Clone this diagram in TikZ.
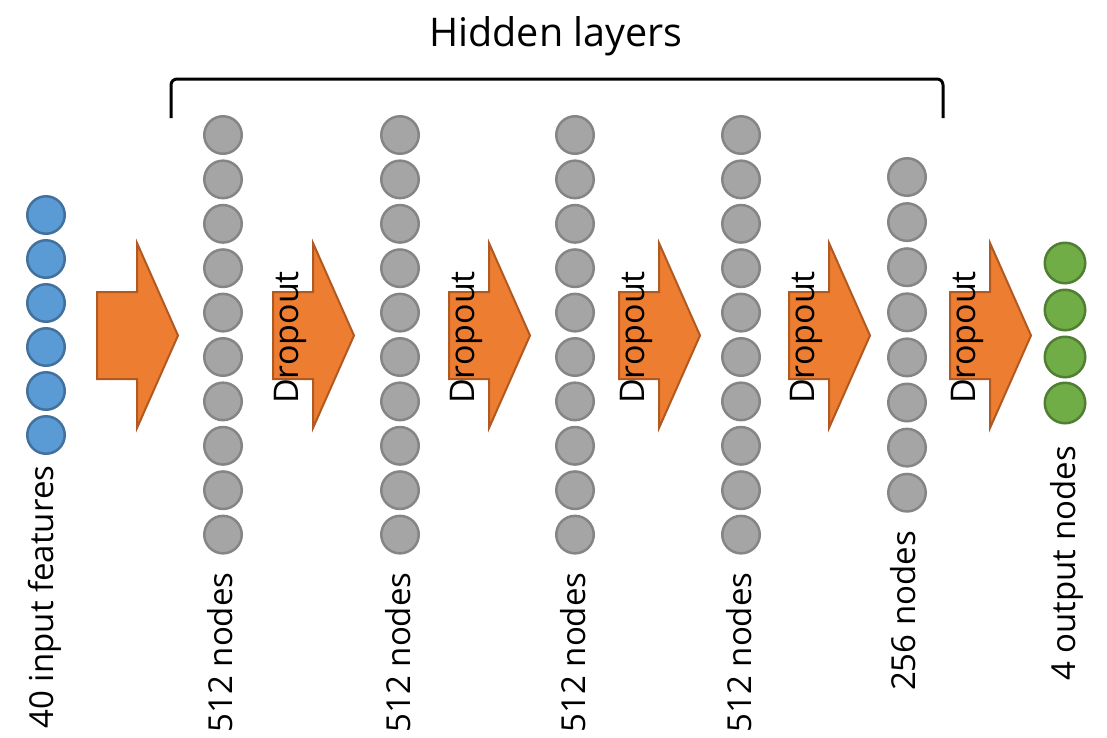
\documentclass[tikz,border=0pt]{standalone}
\usepackage{fontspec}
\setmainfont{Open Sans}
\definecolor{bluefill}{HTML}{5B9BD5}
\definecolor{blueline}{HTML}{41719C}
\definecolor{grayfill}{HTML}{A5A5A5}
\definecolor{grayline}{HTML}{858585}
\definecolor{greenfill}{HTML}{70AD47}
\definecolor{greenline}{HTML}{507E32}
\definecolor{orangefill}{HTML}{ED7D31}
\definecolor{orangeline}{HTML}{B05A22}
\tikzset{
  neuron/.style={circle, line width=2.5pt, inner sep=0pt, minimum size=37.5pt},
  inneuron/.style={neuron, draw=blueline, fill=bluefill},
  hidneuron/.style={neuron, draw=grayline, fill=grayfill},
  outneuron/.style={neuron, draw=greenline, fill=greenfill, minimum size=40.5pt},
  label/.style={rotate=90, inner sep=0pt, font=\fontsize{33}{40}\selectfont},
  droptext/.style={rotate=90, inner sep=0pt, font=\fontsize{34}{40}\selectfont},
  title/.style={inner sep=0pt, font=\fontsize{39.5}{46}\selectfont},
  fatarrow/.style={draw=orangeline, fill=orangefill, line width=2pt, line join=miter},
  bracket/.style={draw=black, line width=3pt, rounded corners=6pt}
}
\begin{document}
\begin{tikzpicture}[x=1pt, y=-1pt]
\useasboundingbox (0,0) rectangle (1107,737);
% input layer
\foreach \i in {0,...,5} {
  \node[inneuron] (in\i) at (46, 215+44*\i) {};
}
% hidden layers 512
\foreach \c/\x in {1/223, 2/400, 3/575, 4/741} {
  \foreach \i in {0,...,9} {
    \node[hidneuron] (h\c n\i) at (\x, 135+44.4*\i) {};
  }
}
% hidden layer 256
\foreach \i in {0,...,7} {
  \node[hidneuron] (h5n\i) at (907, 177+45.1*\i) {};
}
% output
\foreach \i/\y in {0/263, 1/310, 2/357, 3/403} {
  \node[outneuron] (out\i) at (1065, \y) {};
}
% arrows
\foreach \a/\x in {0/97, 1/273, 2/449, 3/619, 4/789, 5/950} {
  \path[fatarrow] (\x,292) -- (\x+40,292) -- (\x+40,243) -- (\x+81,335.5)
     -- (\x+40,428) -- (\x+40,379) -- (\x,379) -- cycle;
  \coordinate (arr\a) at (\x,335.5);
}
\foreach \a in {1,...,5} {
  \node[droptext] (drop\a) at ([xshift=17pt,yshift=-2pt]arr\a) {Dropout};
}
% labels
\node[label] (lin) at (45, 597) {40 input features};
\foreach \c/\x in {1/220.5, 2/398, 3/573, 4/739} {
  \node[label] (l\c) at (\x, 652.5) {512 nodes};
}
\node[label] (l5) at (903, 611) {256 nodes};
\node[label] (lout) at (1067, 563.5) {4 output nodes};
% bracket and title
\coordinate (bl) at (171,118);
\coordinate (br) at (943,118);
\draw[bracket] (bl) -- (171,79) -- (943,79) -- (br);
\node[title] (ttl) at (556, 36) {Hidden layers};
\end{tikzpicture}
\end{document}
